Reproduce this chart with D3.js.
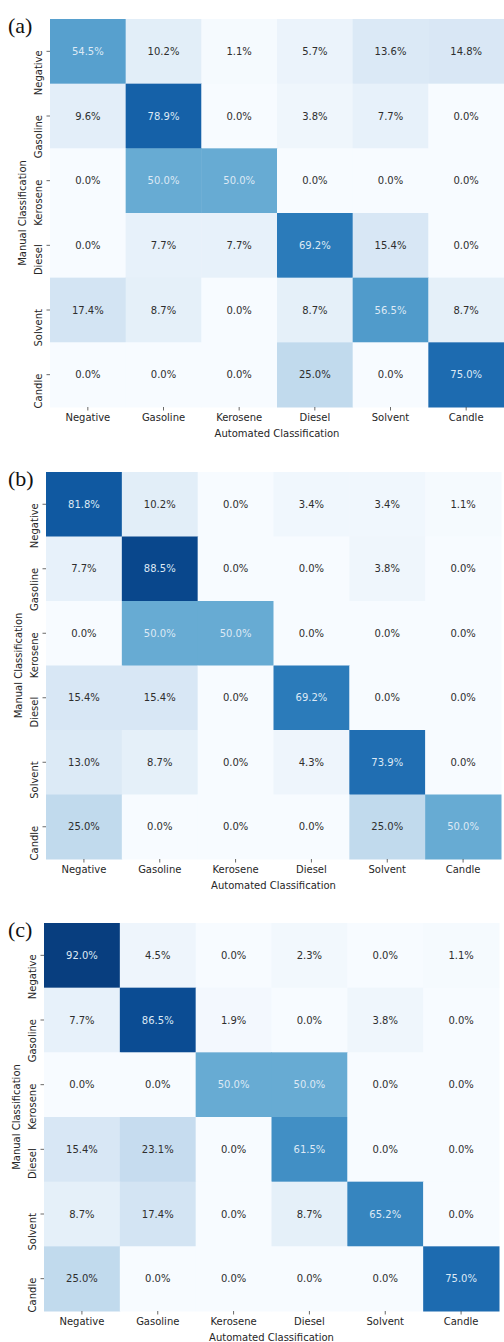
<!DOCTYPE html>
<html>
<head>
<meta charset="utf-8">
<script src="https://cdn.jsdelivr.net/npm/d3@7"></script>
<style>
  html, body { margin: 0; padding: 0; background: #fff; }
  svg { display: block; }
</style>
</head>
<body>
<script>
// ---------- data ----------
const categories = ["Negative", "Gasoline", "Kerosene", "Diesel", "Solvent", "Candle"];
const panelLabels = ["(a)", "(b)", "(c)"];
const xTitle = "Automated Classification";
const yTitle = "Manual Classification";

// rows = manual classification, columns = automated classification (%)
const matrixA = [
  [54.5, 10.2, 1.1, 5.7, 13.6, 14.8],
  [9.6, 78.9, 0.0, 3.8, 7.7, 0.0],
  [0.0, 50.0, 50.0, 0.0, 0.0, 0.0],
  [0.0, 7.7, 7.7, 69.2, 15.4, 0.0],
  [17.4, 8.7, 0.0, 8.7, 56.5, 8.7],
  [0.0, 0.0, 0.0, 25.0, 0.0, 75.0]
];
const matrixB = [
  [81.8, 10.2, 0.0, 3.4, 3.4, 1.1],
  [7.7, 88.5, 0.0, 0.0, 3.8, 0.0],
  [0.0, 50.0, 50.0, 0.0, 0.0, 0.0],
  [15.4, 15.4, 0.0, 69.2, 0.0, 0.0],
  [13.0, 8.7, 0.0, 4.3, 73.9, 0.0],
  [25.0, 0.0, 0.0, 0.0, 25.0, 50.0]
];
const matrixC = [
  [92.0, 4.5, 0.0, 2.3, 0.0, 1.1],
  [7.7, 86.5, 1.9, 0.0, 3.8, 0.0],
  [0.0, 0.0, 50.0, 50.0, 0.0, 0.0],
  [15.4, 23.1, 0.0, 61.5, 0.0, 0.0],
  [8.7, 17.4, 0.0, 8.7, 65.2, 0.0],
  [25.0, 0.0, 0.0, 0.0, 0.0, 75.0]
];
const matrices = [matrixA, matrixB, matrixC];

// ---------- layout ----------
const W = 504, H = 1342;
const panels = [
  { left: 50, top: 19, right: 504, bottom: 407 },
  { left: 46, top: 472, right: 501, bottom: 859 },
  { left: 44, top: 923, right: 499, bottom: 1311 }
];

const svg = d3.select("body").append("svg")
  .attr("width", W).attr("height", H)
  .attr("viewBox", `0 0 ${W} ${H}`);

const color = d3.scaleSequential(d3.interpolateBlues).domain([0, 97]).clamp(true);
const font = "DejaVu Sans, sans-serif";

panels.forEach((p, pi) => {
  const data = matrices[pi];
  const x = d3.scaleBand().domain(categories).range([p.left, p.right]);
  const y = d3.scaleBand().domain(categories).range([p.top, p.bottom]);
  const g = svg.append("g");

  const cells = [];
  data.forEach((row, ri) => row.forEach((v, ci) => cells.push({ r: categories[ri], c: categories[ci], v })));

  g.selectAll("rect").data(cells).join("rect")
    .attr("x", d => x(d.c))
    .attr("y", d => y(d.r))
    .attr("width", x.bandwidth() + 0.5)
    .attr("height", y.bandwidth() + 0.5)
    .attr("fill", d => color(d.v));

  g.selectAll("text.val").data(cells).join("text")
    .attr("class", "val")
    .attr("x", d => x(d.c) + x.bandwidth() / 2)
    .attr("y", d => y(d.r) + y.bandwidth() / 2)
    .attr("text-anchor", "middle")
    .attr("dominant-baseline", "central")
    .attr("font-family", font)
    .attr("font-size", 10)
    .attr("fill", d => d.v >= 45 ? "#dde9f5" : "#2e2e2e")
    .text(d => d.v.toFixed(1) + "%");

  // x axis
  const xAxis = d3.axisBottom(x).tickSize(3.5).tickPadding(3);
  const gx = g.append("g").attr("transform", `translate(0,${p.bottom})`).call(xAxis);
  gx.select(".domain").remove();
  gx.selectAll(".tick line").attr("stroke", "#444").attr("stroke-width", 0.8);
  gx.selectAll(".tick text").attr("font-family", font).attr("font-size", 10).attr("fill", "#262626");

  // y axis (labels rotated; they end at the tick and run downward)
  const yAxis = d3.axisLeft(y).tickSize(3.5).tickPadding(3);
  const gy = g.append("g").attr("transform", `translate(${p.left},0)`).call(yAxis);
  gy.select(".domain").remove();
  gy.selectAll(".tick line").attr("stroke", "#444").attr("stroke-width", 0.8);
  gy.selectAll(".tick text")
    .attr("font-family", font).attr("font-size", 10).attr("fill", "#262626")
    .attr("text-anchor", "end")
    .attr("dy", null)
    .attr("x", null)
    .attr("transform", "translate(-12,-1) rotate(-90)")
    .attr("dominant-baseline", "central");

  // axis titles
  g.append("text")
    .attr("x", (p.left + p.right) / 2)
    .attr("y", p.bottom + 30)
    .attr("text-anchor", "middle")
    .attr("font-family", font).attr("font-size", 10).attr("fill", "#262626")
    .text(xTitle);

  g.append("text")
    .attr("transform", `translate(${p.left - 28},${(p.top + p.bottom) / 2}) rotate(-90)`)
    .attr("text-anchor", "middle")
    .attr("dominant-baseline", "central")
    .attr("font-family", font).attr("font-size", 10).attr("fill", "#262626")
    .text(yTitle);

  // panel label
  g.append("text")
    .attr("x", 8)
    .attr("y", p.top + 14)
    .attr("font-family", "Liberation Serif, Times New Roman, serif")
    .attr("font-size", 22)
    .attr("fill", "#111")
    .text(panelLabels[pi]);
});
</script>
</body>
</html>
